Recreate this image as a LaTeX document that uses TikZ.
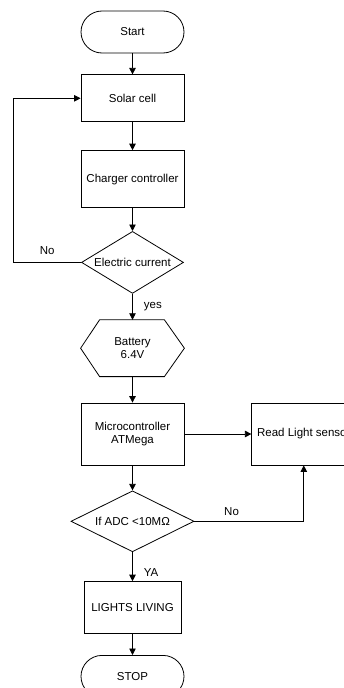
\documentclass[tikz,border=0pt]{standalone}
\usepackage{fontspec}
\setmainfont{Liberation Sans}
\usepackage{tikz}
\usetikzlibrary{arrows.meta, positioning, shapes.geometric}

\begin{document}
\begin{tikzpicture}[
  font=\fontsize{11.5}{13.5}\selectfont,
  line width=0.8pt,
  box/.style={
    rectangle, draw, inner sep=0pt,
    minimum height=47pt, minimum width=103pt,
    align=center
  },
  terminal/.style={box, rounded corners=21pt, minimum height=42pt},
  decision/.style={diamond, draw, inner sep=0pt, minimum width=102pt, minimum height=62pt},
  hexbox/.style={rectangle, inner sep=0pt, minimum height=56pt, minimum width=103pt, align=center},
  arrow/.style={-{Triangle[length=6.5pt, width=6.5pt]}},
  lbl/.style={inner sep=2pt},
]
\useasboundingbox (0,0) rectangle (343pt,-688pt);

% ---- Main column ----
\node[terminal] (start) at (132.5pt,-32pt) {Start};
\node[box, below=21pt of start] (solar) {Solar cell};
\node[box, below=28pt of solar, minimum height=57pt] (charger) {Charger controller};
\node[decision, below=23pt of charger, label=center:{Electric current}] (current) {};
\node[hexbox, below=26pt of current] (battery) {Battery\\6.4V};
\node[box, below=26pt of battery, minimum height=62pt] (micro) {Microcontroller\\ATMega};
\node[decision, below=25pt of micro, minimum width=123pt, minimum height=61pt,
  label=center:{If ADC <10MΩ}] (adc) {};
\node[box, below=29pt of adc, minimum width=97pt, minimum height=52pt] (lights) {LIGHTS LIVING};
\node[terminal, below=21pt of lights] (stop) {STOP};

% ---- Side box ----
\node[box, right=67pt of micro, minimum width=104pt, minimum height=62pt] (sensor) {Read Light sensor};

% Battery outline (hexagon)
\draw (battery.west) -- ([xshift=19pt]battery.north west) -- ([xshift=-20pt]battery.north east)
  -- (battery.east) -- ([xshift=-20pt]battery.south east) -- ([xshift=19pt]battery.south west) -- cycle;

% Arrows
\draw[arrow] (start) -- (solar);
\draw[arrow] (solar) -- (charger);
\draw[arrow] (charger) -- (current);
\draw[arrow] (current) -- node[right=9pt, lbl] {yes} (battery);
\draw[arrow] (battery) -- (micro);
\draw[arrow] (micro) -- (adc);
\draw[arrow] (adc) -- node[right=9pt, lbl, pos=0.7] {YA} (lights);
\draw[arrow] (lights) -- (stop);
\draw[arrow] (micro) -- (sensor);

% Feedback loops
\draw[arrow] (current.west) -- node[above=5pt, lbl] {No} ++(-68pt,0) |- (solar.west);
\draw[arrow] (adc.east) -| node[pos=0.17, above=3pt, lbl] {No} (sensor.south);

\end{tikzpicture}
\end{document}
